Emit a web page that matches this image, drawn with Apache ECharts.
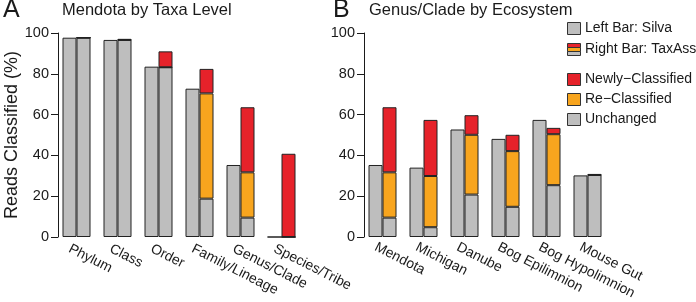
<!DOCTYPE html>
<html>
<head>
<meta charset="utf-8">
<script src="https://cdn.jsdelivr.net/npm/echarts@6/dist/echarts.min.js"></script>
<style>
  html, body { margin: 0; padding: 0; background: #fff; }
  #chart { width: 696px; height: 302px; }
</style>
</head>
<body>
<div id="chart"></div>
<script>
// panel A: Mendota by taxa level
const taxaLevels = ['Phylum', 'Class', 'Order', 'Family/Lineage', 'Genus/Clade', 'Species/Tribe'];
const taxaSilva = [97.7, 96.6, 83.5, 72.7, 35.3, 0];
const taxaUnchanged = [97.7, 96.6, 83.2, 18.8, 9.5, 0];
const taxaReclassified = [0, 0, 0, 51.6, 22.2, 0];
const taxaNewly = [0, 0.5, 7.8, 12.0, 31.9, 40.8];

// panel B: genus/clade by ecosystem
const ecosystems = ['Mendota', 'Michigan', 'Danube', 'Bog Epilimnion', 'Bog Hypolimnion', 'Mouse Gut'];
const ecoSilva = [35.3, 34.0, 52.7, 48.1, 57.4, 30.2];
const ecoUnchanged = [9.5, 4.8, 20.8, 14.8, 25.4, 30.4];
const ecoReclassified = [22.2, 25.1, 29.3, 27.3, 25.0, 0];
const ecoNewly = [31.9, 27.5, 9.6, 8.0, 3.1, 0.5];

const legendLabels = ['Left Bar: Silva', 'Right Bar: TaxAss', 'Newly\u2212Classified', 'Re\u2212Classified', 'Unchanged'];

const FONT = "'Liberation Sans', Arial, Helvetica, sans-serif";
const INK = '#1a1a1a';
const GREY = '#bebebe';
const ORANGE = '#f8a51e';
const RED = '#e6222a';

const chart = echarts.init(document.getElementById('chart'), null, { renderer: 'canvas' });

// grid geometry (px); band of 41 px per category, bar edges on half pixels
const gridTop = 33, gridH = 204, bandW = 246;
const panels = [
  { left: 56, cats: taxaLevels },
  { left: 362, cats: ecosystems }
];
const labelShift = -7;

const grids = [], xAxes = [], yAxes = [];
panels.forEach((p, i) => {
  // bar grid
  grids.push({ left: p.left, top: gridTop, width: bandW, height: gridH });
  xAxes.push({
    type: 'category', gridIndex: 2 * i, data: p.cats,
    axisLine: { show: false }, axisTick: { show: false }, axisLabel: { show: false }
  });
  yAxes.push({
    type: 'value', gridIndex: 2 * i, min: 0, max: 100, interval: 20,
    offset: -2,
    name: i === 0 ? 'Reads Classified (%)' : '',
    nameLocation: 'middle', nameGap: 36,
    nameTextStyle: { fontFamily: FONT, fontSize: 18, color: INK },
    axisLine: { show: true, lineStyle: { color: INK, width: 1 } },
    axisTick: { show: true, length: 7, lineStyle: { color: INK } },
    axisLabel: { margin: 9, fontFamily: FONT, fontSize: 14.5, color: INK },
    splitLine: { show: false }
  });
  // label grid, shifted left so rotated names start under the bars like in R
  grids.push({ left: p.left + labelShift, top: gridTop, width: bandW, height: gridH });
  xAxes.push({
    type: 'category', gridIndex: 2 * i + 1, data: p.cats,
    axisLine: { show: false }, axisTick: { show: false },
    axisLabel: { rotate: -27, margin: 11, interval: 0, fontFamily: FONT, fontSize: 14, color: INK }
  });
  yAxes.push({ type: 'value', gridIndex: 2 * i + 1, min: 0, max: 100, show: false });
});

function barSeries(name, data, axis, stack, color) {
  return {
    name: name, type: 'bar', xAxisIndex: axis, yAxisIndex: axis,
    stack: stack, data: data, barWidth: 14, barGap: '0%',
    itemStyle: { color: color, borderColor: '#222', borderWidth: 1 },
    emphasis: { disabled: true }
  };
}

const series = [
  barSeries('Silva', taxaSilva, 0, 'sA', GREY),
  barSeries('Unchanged', taxaUnchanged, 0, 'tA', GREY),
  barSeries('Re-Classified', taxaReclassified, 0, 'tA', ORANGE),
  barSeries('Newly-Classified', taxaNewly, 0, 'tA', RED),
  barSeries('Silva', ecoSilva, 2, 'sB', GREY),
  barSeries('Unchanged', ecoUnchanged, 2, 'tB', GREY),
  barSeries('Re-Classified', ecoReclassified, 2, 'tB', ORANGE),
  barSeries('Newly-Classified', ecoNewly, 2, 'tB', RED)
];

// legend drawn by hand (R style boxes, with the striped TaxAss key)
const legX = 567.5, legTextX = 585;
const legY = [28, 49, 79, 99, 119];
const legFill = [GREY, null, RED, ORANGE, GREY];
const graphic = [];
legendLabels.forEach((txt, k) => {
  if (legFill[k]) {
    graphic.push({
      type: 'rect', shape: { x: legX, y: legY[k] - 5.5, width: 13, height: 12 },
      style: { fill: legFill[k], stroke: '#333', lineWidth: 1 }
    });
  } else {
    [RED, ORANGE, GREY].forEach((c, s) => {
      graphic.push({
        type: 'rect', shape: { x: legX, y: legY[k] - 5.5 + s * 4, width: 13, height: 4 },
        style: { fill: c, stroke: '#333', lineWidth: 1 }
      });
    });
  }
  graphic.push({
    type: 'text', x: legTextX, y: legY[k],
    style: { text: txt, fontFamily: FONT, fontSize: 14, fill: INK, verticalAlign: 'middle' }
  });
});

const option = {
  animation: false,
  backgroundColor: '#fff',
  title: [
    { text: 'A', left: 3, top: -2, padding: 0, textStyle: { fontFamily: FONT, fontSize: 25, fontWeight: 'normal', color: INK } },
    { text: 'Mendota by Taxa Level', left: 62, top: 2, padding: 0, textStyle: { fontFamily: FONT, fontSize: 16.5, fontWeight: 'normal', color: INK } },
    { text: 'B', left: 333, top: -2, padding: 0, textStyle: { fontFamily: FONT, fontSize: 25, fontWeight: 'normal', color: INK } },
    { text: 'Genus/Clade by Ecosystem', left: 369, top: 2, padding: 0, textStyle: { fontFamily: FONT, fontSize: 16.5, fontWeight: 'normal', color: INK } }
  ],
  grid: grids,
  xAxis: xAxes,
  yAxis: yAxes,
  series: series,
  graphic: graphic
};

chart.setOption(option);
</script>
</body>
</html>
